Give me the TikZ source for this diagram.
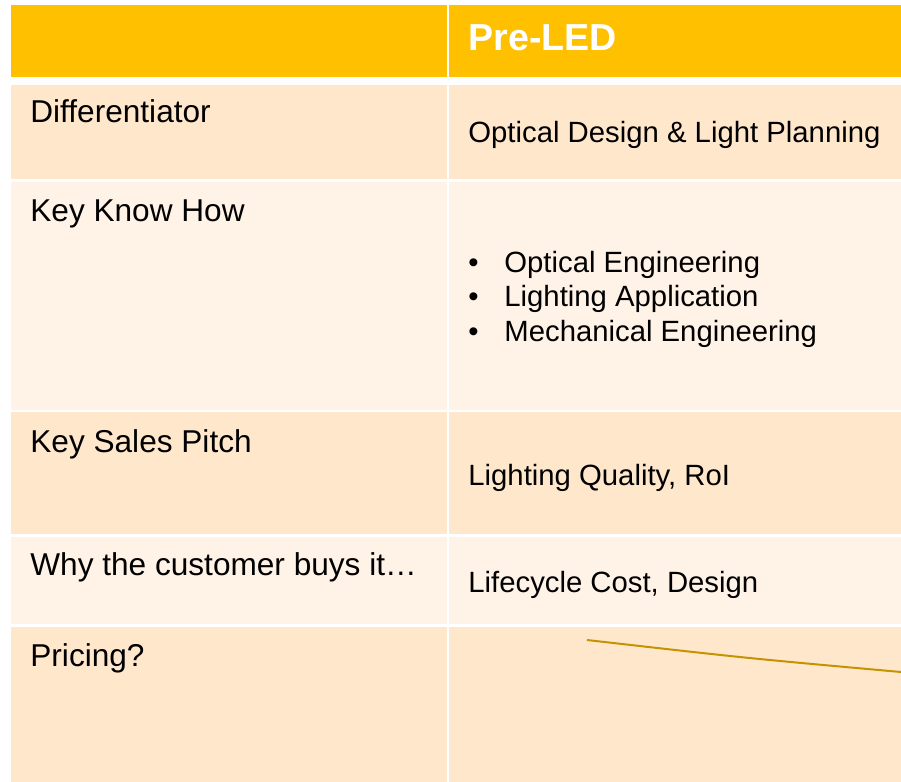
\documentclass[tikz,border=0pt]{standalone}
\usepackage{fontspec}
\setmainfont{Liberation Sans}
\usepackage{tikz}
\usetikzlibrary{calc,positioning}
\definecolor{headgold}{HTML}{FFC000}
\definecolor{banddark}{HTML}{FFE7CC}
\definecolor{bandlight}{HTML}{FFF2E6}
\definecolor{penline}{HTML}{C49300}
\tikzset{
  rowlabel/.style={anchor=base west, inner sep=0pt, font=\fontsize{15.8}{19}\selectfont},
  cellentry/.style={anchor=base west, inner sep=0pt, font=\fontsize{14.65}{17.6}\selectfont},
  headentry/.style={anchor=base west, inner sep=0pt, text=white, font=\fontsize{18.8}{22}\selectfont\bfseries}
}

\begin{document}
\begin{tikzpicture}[x=0.5pt,y=-0.5pt]
            \useasboundingbox (0,0) rectangle (901,782);
            \fill[white] (0,0) rectangle (901,782);

            % header row
            \fill[headgold] (11,5) rectangle (447,77);
            \fill[headgold] (449,5) rectangle (901,77);

            \foreach \top/\bot/\col in {85/179/banddark, 182/410/bandlight, 412/534/banddark, 537/624/bandlight, 627/782/banddark}
            {
            \fill[\col] (11,\top) rectangle (447,\bot);
            \fill[\col] (449,\top) rectangle (901,\bot);
            }

            \node[headentry] (preled) at (468,50) {Pre-LED};

            \node[rowlabel] (differ) at (30,122) {Differentiator};
            \node[rowlabel] (knowhow) at (30,221) {Key Know How};
            \node[rowlabel] (pitch) at (30,452) {Key Sales Pitch};
            \node[rowlabel] (whybuy) at (30,575) {Why the customer buys it…};
            \node[rowlabel] (pricing) at (30,666) {Pricing?};

            \node[cellentry] (design) at (468,142) {Optical Design \& Light Planning};

            \foreach \y/\name/\txt in {272/optic/Optical Engineering, 306/applic/Lighting Application, 341/mechan/Mechanical Engineering}
            {
            \node[cellentry] (dot\name) at (468,\y) {\textbullet};
            \node[cellentry] (\name) at (504,\y) {\txt};
            }

            \node[cellentry] (quality) at (468,485) {Lighting Quality, RoI};
            \node[cellentry] (lifecost) at (468,592) {Lifecycle Cost, Design};

            \coordinate (penstart) at (587,640);
            \coordinate (penend) at (901,672);
            \draw[penline, line width=1pt] (penstart) .. controls (745,658) .. (penend);
        \end{tikzpicture}
\end{document}
